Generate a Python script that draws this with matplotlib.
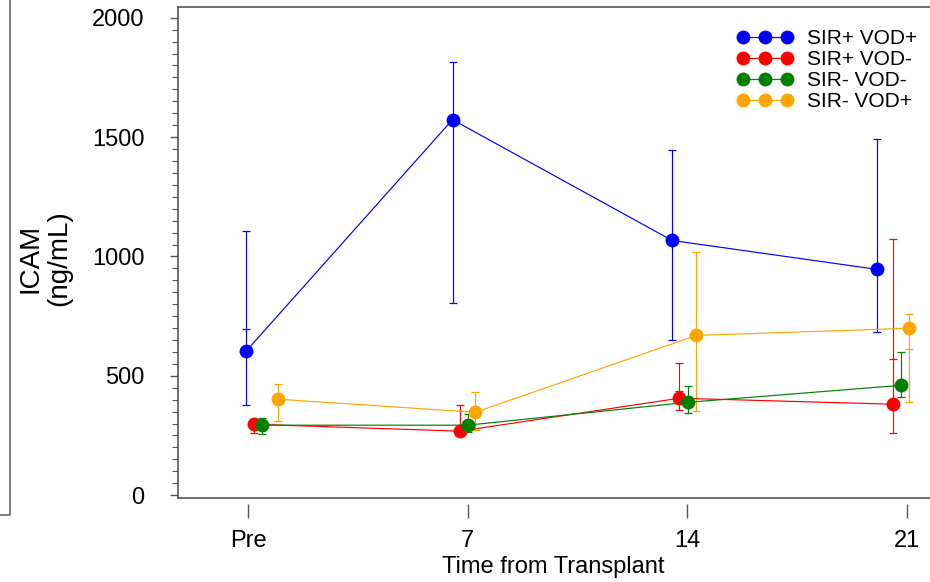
import matplotlib
matplotlib.use("Agg")
import matplotlib.pyplot as plt
import numpy as np

plt.rcParams['font.family'] = ['Liberation Sans', 'DejaVu Sans']

# ---- data ----
tick_pos = [0, 7, 14, 21]
tick_labels = ["Pre", "7", "14", "21"]
series_names = ["SIR+ VOD+", "SIR+ VOD-", "SIR- VOD-", "SIR- VOD+"]
colors = ["#0000FF", "#FF0000", "#008000", "#FFA500"]

# x positions (days, dodged as in the picture)
x_blue = [-0.06, 6.52, 13.52, 20.04]
x_red = [0.19, 6.75, 13.75, 20.55]
x_green = [0.45, 7.0, 14.03, 20.81]
x_orange = [0.96, 7.25, 14.29, 21.06]

mean_blue = [603, 1573, 1067, 946]
mean_red = [297, 268, 406, 381]
mean_green = [293, 293, 389, 460]
mean_orange = [402, 347, 669, 699]

upper_blue = [1105, 1816, 1444, 1490]
upper_red = [312, 377, 552, 1071]
upper_green = [322, 339, 456, 598]
upper_orange = [464, 431, 1017, 757]

lower_blue = [377, 803, 649, 682]
lower_red = [259, 255, 356, 259]
lower_green = [255, 265, 343, 410]
lower_orange = [310, 272, 351, 389]

# additional cap marks shown on some bars
extra_blue = [695, np.nan, np.nan, np.nan]
extra_red = [np.nan, np.nan, 435, 569]
extra_green = [np.nan, np.nan, np.nan, np.nan]
extra_orange = [np.nan, np.nan, np.nan, 611]

xs = [x_blue, x_red, x_green, x_orange]
means = [mean_blue, mean_red, mean_green, mean_orange]
uppers = [upper_blue, upper_red, upper_green, upper_orange]
lowers = [lower_blue, lower_red, lower_green, lower_orange]
extras = [extra_blue, extra_red, extra_green, extra_orange]

# ---- figure ----
W, H = 930, 582
fig = plt.figure(figsize=(W / 100, H / 100), dpi=100)
left, right, top, bottom = 178, 935, 7, 498
ax = fig.add_axes([left / W, 1 - bottom / H, (right - left) / W, (bottom - top) / H])

spine_col = "#555555"
handles = []
for name, c, x, m, up, lo, ex in zip(series_names, colors, xs, means, uppers, lowers, extras):
    m = np.array(m, float)
    yerr = np.vstack([m - np.array(lo, float), np.array(up, float) - m])
    ax.errorbar(x, m, yerr=yerr, fmt='none', ecolor=c, elinewidth=0.85,
                capsize=3.0, capthick=0.9, zorder=2)
    ax.plot(x, ex, linestyle='none', marker='_', markersize=6.0,
            markeredgewidth=0.9, color=c, zorder=2)
    h, = ax.plot(x, m, color=c, linewidth=0.85, marker='o', markersize=10,
                 markeredgewidth=0, zorder=3, label=name)
    handles.append(h)

ax.set_xlim(-2.23, 21.9)
ax.set_ylim(-12, 2045)
ax.set_yticks([0, 500, 1000, 1500, 2000])
ax.set_yticks(np.arange(0, 2001, 50), minor=True)
ax.set_xticks(tick_pos)
ax.set_xticklabels(tick_labels)

for s in ['top', 'left']:
    ax.spines[s].set_color(spine_col)
    ax.spines[s].set_linewidth(1.2)
ax.spines['right'].set_visible(False)
# bottom spine moved outward carries the ticks; draw the box bottom line separately
ax.spines['bottom'].set_position(('outward', 4))
ax.spines['bottom'].set_visible(False)
ax.plot([0, 1], [0, 0], transform=ax.transAxes, color=spine_col, linewidth=1.2,
        clip_on=False, zorder=5)

ax.tick_params(axis='y', which='major', direction='out', length=6, width=1,
               color=spine_col, labelsize=17, pad=18)
ax.tick_params(axis='y', which='minor', direction='out', length=4, width=0.8,
               color=spine_col)
ax.tick_params(axis='x', which='major', direction='out', length=10, width=1,
               color=spine_col, labelsize=17, pad=9)

fig.text(553 / W, 1 - 567 / H, "Time from Transplant", ha='center', va='center',
         fontsize=17)
fig.text(45 / W, 1 - 258 / H, "ICAM\n(ng/mL)", ha='center', va='center',
         rotation=90, fontsize=20, multialignment='center', linespacing=1.15)

leg = fig.legend(handles=handles, loc='upper left',
                 bbox_to_anchor=(737 / W, 1 - 29 / H), frameon=False,
                 fontsize=15, numpoints=3, handlelength=2.7, handletextpad=0.65,
                 labelspacing=0.1, borderpad=0, borderaxespad=0, markerscale=1.0)

# outer frame fragment at the far left
fig.add_artist(plt.Line2D([10 / W, 10 / W, 0], [1.0, 1 - 515 / H, 1 - 515 / H],
                          transform=fig.transFigure, color="#666666", linewidth=1.2))

fig.savefig("out.png", dpi=100)
